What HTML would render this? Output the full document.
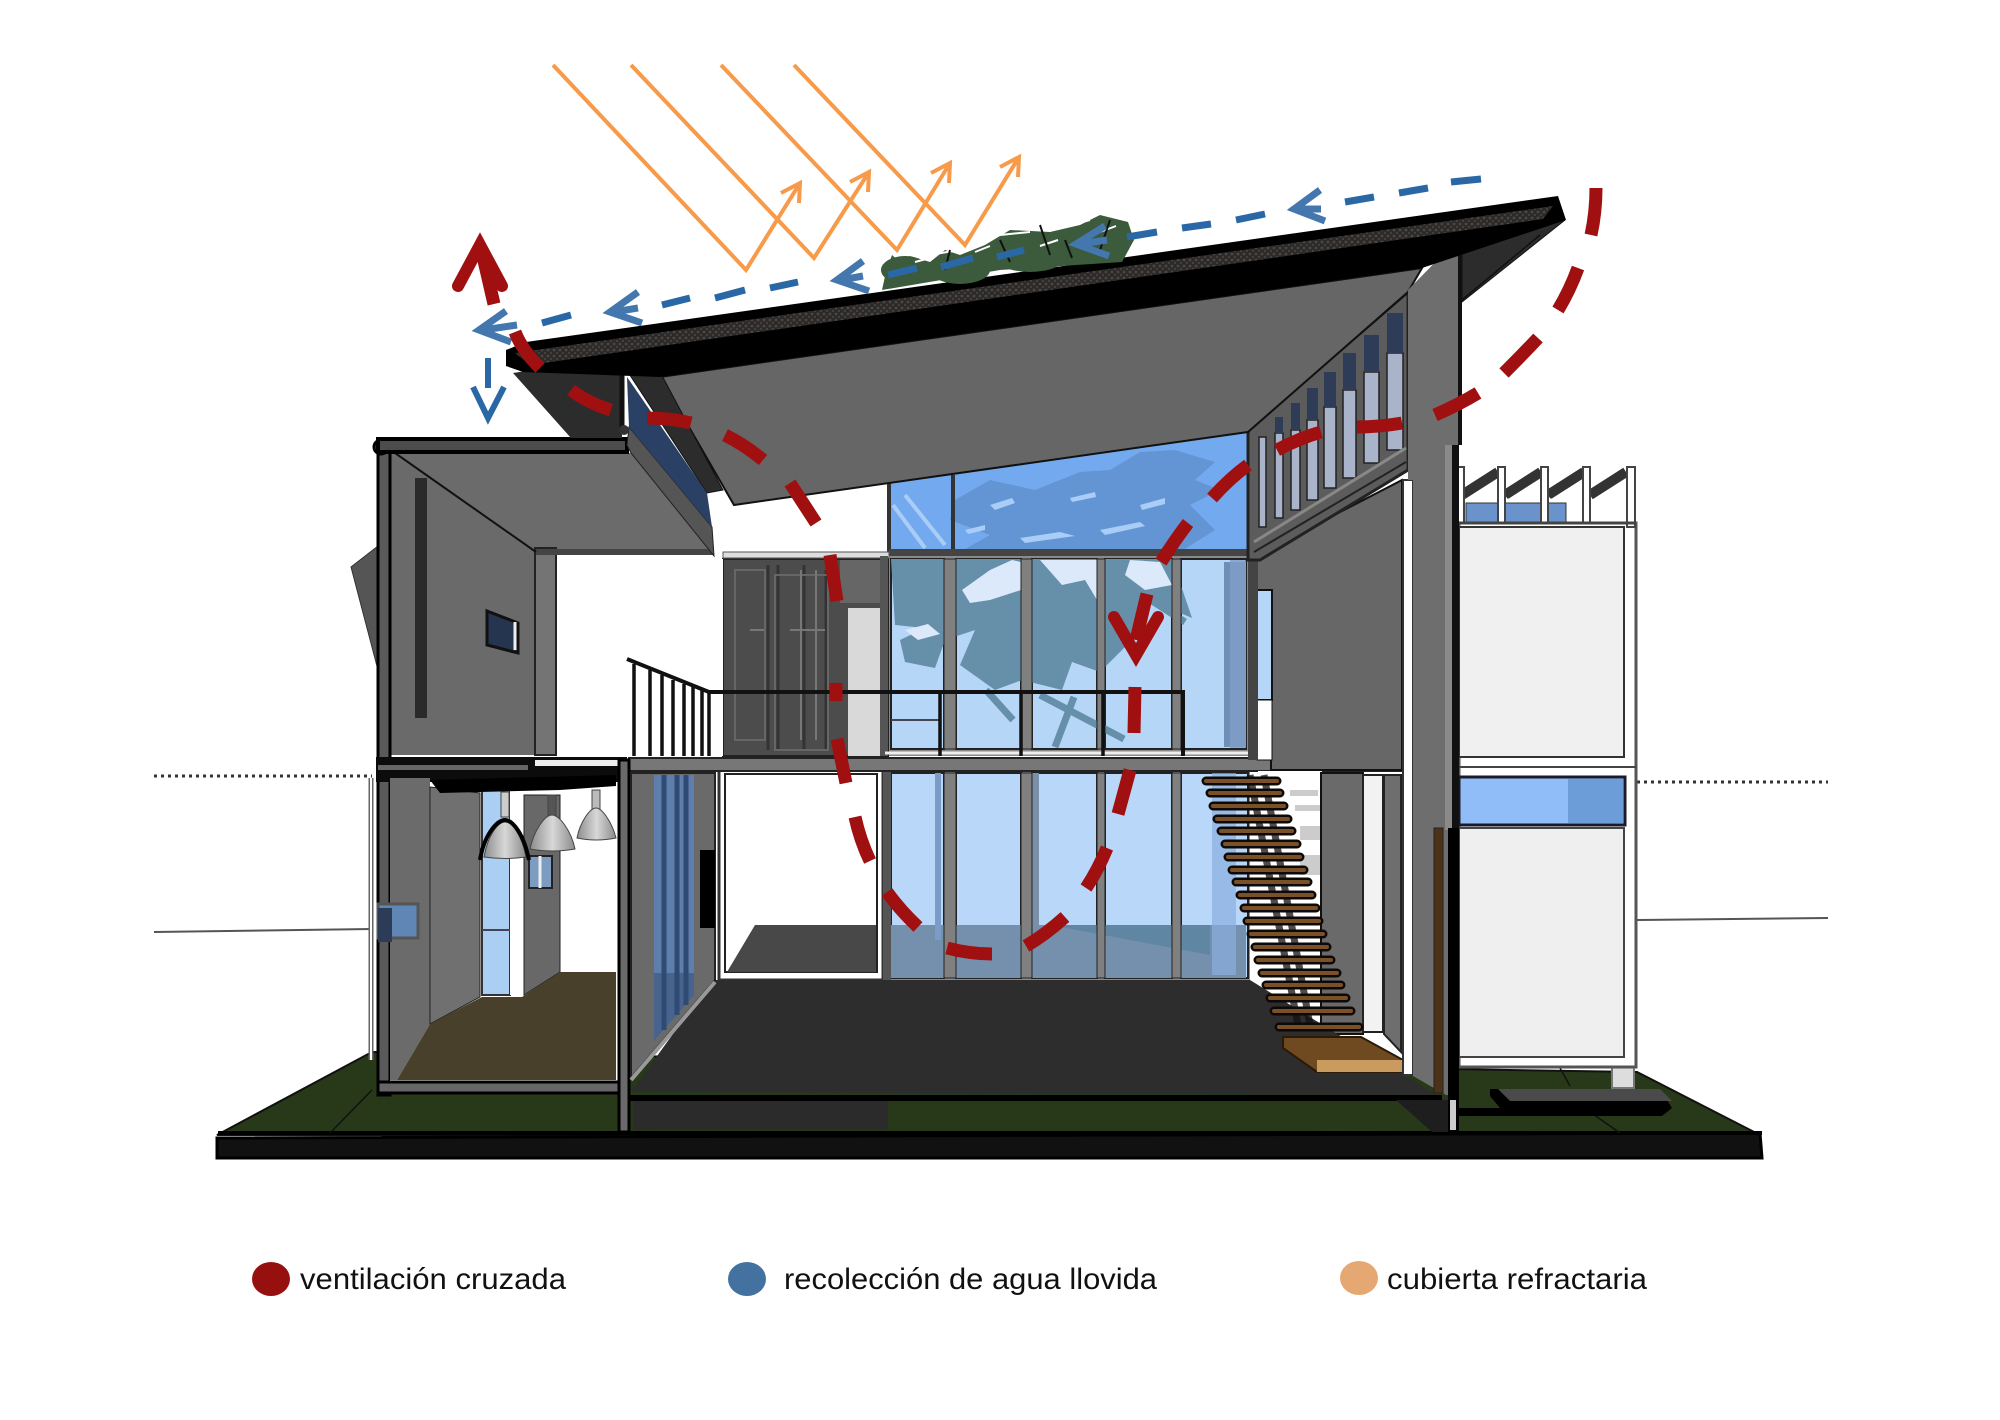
<!DOCTYPE html>
<html lang="es">
<head>
<meta charset="utf-8">
<title>Diagrama bioclimático</title>
<style>
html,body{margin:0;padding:0;background:#fff}
svg{display:block}
text{font-family:"Liberation Sans",sans-serif;fill:#111}
</style>
</head>
<body>
<svg width="2000" height="1420" viewBox="0 0 2000 1420" xmlns="http://www.w3.org/2000/svg">
<defs>
<linearGradient id="lamp" x1="0" x2="1" y1="0" y2="0"><stop offset="0" stop-color="#8c8c8c"/><stop offset=".5" stop-color="#d8d8d8"/><stop offset="1" stop-color="#8a8a8a"/></linearGradient>
<clipPath id="up"><path d="M891 559h53v190h-53zM956 559h65v190h-65zM1032 559h65v190h-65zM1105 559h67v190h-67zM1181 559h65v190h-65z"/></clipPath>
<clipPath id="topglass"><path d="M889 483L1248 433V552H889z"/></clipPath>
<pattern id="mott" width="6" height="6" patternUnits="userSpaceOnUse"><rect width="6" height="6" fill="#2c2a28"/><circle cx="2" cy="2" r="1.4" fill="#4c4744"/><circle cx="5" cy="5" r="1.2" fill="#45403d"/></pattern>
</defs>
<rect width="2000" height="1420" fill="#fff"/>

<!-- ground lines -->
<path d="M154 776H372" stroke="#333" stroke-width="3" stroke-dasharray="3 4" fill="none"/>
<path d="M1637 782H1828" stroke="#333" stroke-width="3" stroke-dasharray="3 4" fill="none"/>
<path d="M154 932L372 929M1637 920L1828 918" stroke="#555" stroke-width="2" fill="none"/>

<!-- grass + base -->
<path d="M217 1135L372 1052L1637 1072L1760 1135Z" fill="#28391a" stroke="#111" stroke-width="2"/>
<path d="M217 1138L1760 1133L1762 1158L217 1158Z" fill="#111" stroke="#000" stroke-width="3"/>
<path d="M218 1133H1762" stroke="#000" stroke-width="4"/>
<path d="M330 1133L372 1090M1620 1133L1590 1112M1560 1068L1570 1086" stroke="#111" stroke-width="1.5"/>
<path d="M1490 1089H1660L1672 1108L1662 1116H1456V1108H1500L1490 1096Z" fill="#000"/>
<path d="M1498 1089H1660L1672 1101H1510Z" fill="#4a4a4a"/>
<path d="M1612 1066H1634V1088H1612Z" fill="#ddd" stroke="#777" stroke-width="2"/>

<!-- right building -->
<rect x="1459" y="523" width="177" height="544" fill="#fff" stroke="#555" stroke-width="3"/>
<rect x="1459" y="527" width="165" height="230" fill="#f0f0f0" stroke="#333" stroke-width="2"/>
<path d="M1459 767H1636" stroke="#444" stroke-width="2"/>
<rect x="1459" y="777" width="166" height="48" fill="#90bdf8" stroke="#1a1a2a" stroke-width="3"/>
<rect x="1568" y="779" width="55" height="44" fill="#6d9dd8"/>
<rect x="1459" y="828" width="165" height="229" fill="#efefef" stroke="#444" stroke-width="2"/>
<!-- pergola -->
<rect x="1466" y="503" width="100" height="19" fill="#6a93cc" stroke="#333"/>
<path d="M1462 495L1498 472M1505 495L1541 472M1548 495L1584 472M1590 495L1626 472" stroke="#333" stroke-width="10" fill="none"/>
<path d="M1466 500H1575" stroke="#fff" stroke-width="3"/>
<g fill="#fff" stroke="#444" stroke-width="2"><rect x="1457" y="467" width="7" height="56"/><rect x="1498" y="467" width="7" height="56"/><rect x="1541" y="467" width="7" height="56"/><rect x="1583" y="467" width="7" height="56"/><rect x="1627" y="467" width="8" height="60"/></g>
<path d="M1459 523H1636" stroke="#444" stroke-width="3"/>

<!-- rear: top glass -->
<path d="M889 483L1248 433V552H889Z" fill="#73a9ee"/>
<g clip-path="url(#topglass)">
<path d="M955 500L990 480L1035 490L1080 472L1110 470L1140 452L1175 450L1215 462L1195 480L1220 490L1190 505L1215 530L1180 552H960L990 535L950 520Z" fill="#5f90ce" opacity=".8"/>
<g fill="#a9cdf6"><path d="M1020 538L1060 532L1075 536L1025 543Z"/><path d="M1100 530L1140 522L1145 526L1105 535Z"/><path d="M990 505L1012 498L1015 503L995 510Z"/><path d="M1140 505L1165 498L1165 504L1142 510Z"/><path d="M1070 498L1095 492L1096 497L1072 502Z"/><path d="M965 530L985 525L985 530L968 534Z"/></g>
<path d="M893 505L925 548M905 495L945 545" stroke="#a9cdf6" stroke-width="4"/>
</g>
<path d="M889 483V552M953 475V552" stroke="#333" stroke-width="4"/>
<rect x="889" y="549" width="360" height="7" fill="#444"/>

<!-- upper windows -->
<rect x="887" y="556" width="363" height="200" fill="#8a8a8a"/>
<g fill="#b6d6f8" stroke="#222" stroke-width="2"><rect x="891" y="559" width="53" height="190"/><rect x="956" y="559" width="65" height="190"/><rect x="1032" y="559" width="65" height="190"/><rect x="1105" y="559" width="67" height="190"/><rect x="1181" y="559" width="65" height="190"/></g>
<rect x="1224" y="562" width="22" height="185" fill="#6e8fb8"/>
<g clip-path="url(#up)">
<path d="M891 559H1172L1192 618L1150 600L1132 640L1112 660L1100 672L1072 662L1062 690L1022 680L995 690L960 665L975 630L945 640L935 668L905 662L900 640L925 628L895 625Z" fill="#668fa9"/>
<path d="M986 690L1013 720M1040 695L1124 739M1055 747L1074 697M1135 590L1185 622M1120 610L1100 650" stroke="#668fa9" stroke-width="7"/>
<g fill="#dbe9fa"><path d="M962 590L990 570L1012 560L1021 562V590L990 600L970 603Z"/><path d="M1040 560L1062 585L1085 580L1097 600V560Z"/><path d="M1130 560L1160 562L1172 585L1145 590L1125 575Z"/><path d="M905 630L928 624L940 634L918 640Z"/></g>
</g>
<path d="M891 720H940" stroke="#445" stroke-width="2"/>

<!-- lower windows -->
<rect x="887" y="770" width="363" height="212" fill="#8a8a8a"/>
<g fill="#b8d7f9" stroke="#222" stroke-width="2"><rect x="891" y="773" width="53" height="205"/><rect x="956" y="773" width="65" height="205"/><rect x="1032" y="773" width="65" height="205"/><rect x="1105" y="773" width="67" height="205"/><rect x="1181" y="773" width="67" height="205"/></g>
<path d="M891 925H944V978H891ZM956 925H1021V978H956ZM1032 925H1097V978H1032ZM1105 925H1172V978H1105ZM1181 925H1246V978H1181Z" fill="#7590ad"/>
<path d="M1050 925L1210 955V925Z" fill="#5a83a0" opacity=".8"/>
<rect x="1021" y="773" width="18" height="155" fill="#7a90a8"/>
<path d="M938 773V940" stroke="#7a9cc6" stroke-width="6"/>
<path d="M1224 773V975" stroke="#8aaede" stroke-width="24" opacity=".7"/>
<g fill="#808080" stroke="#222"><rect x="1097" y="773" width="8" height="205"/><rect x="1172" y="773" width="9" height="205"/><rect x="1021" y="773" width="11" height="205"/><rect x="944" y="773" width="12" height="205"/><rect x="1097" y="559" width="8" height="190"/><rect x="1172" y="559" width="9" height="190"/><rect x="1021" y="559" width="11" height="190"/><rect x="944" y="559" width="12" height="190"/></g>

<!-- dark doors -->
<rect x="723" y="559" width="165" height="197" fill="#4c4c4c" stroke="#222" stroke-width="2"/>
<path d="M723 552H889V558H723Z" fill="#ddd" stroke="#555"/>
<rect x="848" y="608" width="32" height="148" fill="#d9d9d9"/>
<rect x="840" y="560" width="40" height="43" fill="#666"/>
<path d="M768 565V750M778 565V750M804 565V750M826 570V750" stroke="#333" stroke-width="3"/>
<path d="M735 570H765V740H735ZM775 575H828V750H775Z" fill="none" stroke="#666" stroke-width="2"/>
<path d="M750 630H764M790 630H825M801 570V740M816 570V740" stroke="#777" stroke-width="2"/>
<path d="M884 556V756" stroke="#555" stroke-width="8"/>

<!-- court room window -->
<rect x="719" y="768" width="164" height="212" fill="#fff" stroke="#333" stroke-width="3"/>
<rect x="725" y="774" width="152" height="198" fill="#fff" stroke="#222" stroke-width="2"/>
<path d="M755 925H876V972H727Z" fill="#484848"/>
<rect x="883" y="770" width="8" height="212" fill="#555"/>

<!-- slab -->
<rect x="629" y="758" width="775" height="13" fill="#777" stroke="#222" stroke-width="2"/>
<path d="M885 753H1250" stroke="#eee" stroke-width="3"/>

<!-- lower right under-stair -->
<rect x="1258" y="771" width="64" height="195" fill="#fff"/>
<g fill="#ccc"><rect x="1290" y="790" width="28" height="6"/><rect x="1295" y="805" width="25" height="6"/><rect x="1300" y="826" width="22" height="14"/><rect x="1300" y="855" width="22" height="20"/></g>
<path d="M1321 773H1363V1034H1321Z" fill="#6a6a6a" stroke="#111" stroke-width="2"/>
<rect x="1363" y="775" width="20" height="257" fill="#f2f2f2" stroke="#222" stroke-width="2"/>
<path d="M1384 775H1401V1052L1384 1034Z" fill="#6e6e6e" stroke="#222" stroke-width="2"/>

<!-- main floor -->
<path d="M631 1092L712 980H1250L1436 1095Z" fill="#2d2d2d"/>
<path d="M628 1098H1442" stroke="#000" stroke-width="6"/>
<path d="M633 1101H888V1130H633Z" fill="#2b2b2b"/>
<path d="M1396 1100L1432 1132H1456V1100Z" fill="#1e1e1e"/>

<!-- stairs -->
<g stroke="#111" stroke-width="7" opacity=".75"><path d="M1250 775L1298 1025M1264 775L1310 1025"/></g>
<g stroke="#0d0906" stroke-width="9" stroke-linecap="round">
<path d="M1206 781H1277M1210 793H1280M1213 806H1284M1217 819H1288M1221 831H1292M1225 844H1297M1228 857H1300M1232 870H1304M1236 882H1308M1240 895H1312M1244 908H1316M1247 921H1319M1251 934H1323M1255 947H1327M1258 960H1331M1262 973H1337M1266 985H1341M1270 998H1346M1274 1011H1351M1279 1027H1359"/>
</g>
<g stroke="#7a5028" stroke-width="4" stroke-linecap="round">
<path d="M1206 781H1277M1210 793H1280M1213 806H1284M1217 819H1288M1221 831H1292M1225 844H1297M1228 857H1300M1232 870H1304M1236 882H1308M1240 895H1312M1244 908H1316M1247 921H1319M1251 934H1323M1255 947H1327M1258 960H1331M1262 973H1337M1266 985H1341M1270 998H1346M1274 1011H1351M1279 1027H1359"/>
</g>
<path d="M1283 1037H1361L1403 1060V1072H1317L1283 1048Z" fill="#6f4a20" stroke="#2a1a08" stroke-width="2"/>
<path d="M1317 1060H1403V1072H1317Z" fill="#c99b5e"/>

<!-- lower right wall + white strip -->
<path d="M1257 555L1402 480V770H1271V590H1257Z" fill="#676767" stroke="#111" stroke-width="2"/>
<rect x="1257" y="590" width="15" height="110" fill="#b5d6f7" stroke="#111" stroke-width="2"/>
<rect x="1257" y="700" width="15" height="60" fill="#fff" stroke="#111" stroke-width="1"/>
<rect x="1248" y="555" width="10" height="205" fill="#444"/>
<rect x="1403" y="480" width="10" height="595" fill="#fff" stroke="#333" stroke-width="2"/>
<path d="M1230 560H1246V748H1230Z" fill="#7f9fc9" opacity=".8"/>

<!-- clerestory -->
<path d="M1248 430L1408 292V470L1260 560H1248Z" fill="#5c5c5c" stroke="#222" stroke-width="3"/>
<g fill="#a9b3c9" stroke="#222" stroke-width="1.5">
<rect x="1259" y="437" width="7" height="90"/><rect x="1275" y="433" width="8" height="85"/><rect x="1291" y="430" width="9" height="80"/><rect x="1307" y="420" width="11" height="80"/><rect x="1324" y="407" width="12" height="81"/><rect x="1343" y="390" width="13" height="88"/><rect x="1364" y="372" width="15" height="91"/><rect x="1387" y="353" width="16" height="97"/>
</g>
<g fill="#2f3c57">
<rect x="1275" y="417" width="8" height="16"/><rect x="1291" y="403" width="9" height="27"/><rect x="1307" y="388" width="11" height="32"/><rect x="1324" y="372" width="12" height="35"/><rect x="1343" y="353" width="13" height="37"/><rect x="1364" y="335" width="15" height="37"/><rect x="1387" y="313" width="16" height="40"/>
</g>
<path d="M1254 542L1406 448" stroke="#888" stroke-width="3"/>
<path d="M1254 552L1406 462" stroke="#222" stroke-width="2"/>

<!-- left tilted shape -->
<path d="M351 567L378 546V670Z" fill="#555" stroke="#333"/>

<!-- opening white -->
<rect x="556" y="559" width="167" height="197" fill="#fff"/>

<!-- upper left room -->
<path d="M390 453H631L712 552H536Z" fill="#6b6b6b"/>
<path d="M390 453L536 548V755H390Z" fill="#6a6a6a"/>
<path d="M535 548H556V755H535Z" fill="#747474" stroke="#222" stroke-width="2"/>
<path d="M536 552H714" stroke="#444" stroke-width="6"/>
<path d="M395 453L536 552" stroke="#111" stroke-width="2"/>
<rect x="415" y="478" width="12" height="240" fill="#2a2a2a"/>
<path d="M487 611L518 623V653L487 645Z" fill="#25344f" stroke="#111" stroke-width="3"/>
<path d="M515 622V650" stroke="#eee" stroke-width="3"/>
<rect x="378" y="445" width="12" height="650" fill="#5a5a5a" stroke="#000" stroke-width="3"/>
<circle cx="381" cy="447" r="7" fill="#555" stroke="#000" stroke-width="3"/>
<path d="M378 439H627V452H378Z" fill="#4c4c4c" stroke="#000" stroke-width="4"/>
<path d="M627 445L629 427L712 527L714 556L631 453Z" fill="#555" stroke="#222"/>

<!-- slab left -->
<path d="M376 757H627V782H376Z" fill="#0c0c0c"/>
<rect x="535" y="760" width="92" height="6" fill="#eee"/>
<rect x="378" y="765" width="150" height="5" fill="#666"/>

<!-- railing -->
<path d="M627 659L709 692H1183V756" fill="none" stroke="#111" stroke-width="4"/>
<path d="M634 664V756M650 670V756M662 675V756M673 680V756M684 684V756M693 687V756M702 690V756M709 692V756M940 692V756M1021 692V756M1103 692V756" stroke="#111" stroke-width="3.5" fill="none"/>

<!-- lower left room -->
<rect x="390" y="782" width="230" height="300" fill="#fff"/>
<path d="M390 778H430V1024L397 1080H390Z" fill="#6b6b6b"/>
<path d="M430 787L480 793V997L430 1024Z" fill="#707070" stroke="#222"/>
<rect x="482" y="790" width="28" height="205" fill="#aacff2" stroke="#333" stroke-width="2"/>
<path d="M482 930H510" stroke="#445" stroke-width="2"/>
<rect x="510" y="790" width="12" height="205" fill="#fff"/>
<path d="M524 795H560V972L524 995Z" fill="#686868" stroke="#222"/>
<path d="M397 1080L430 1024L482 997H522L560 972H616V1080Z" fill="#48402a"/>
<path d="M430 780L616 775V786L560 790L440 793Z" fill="#000"/>
<rect x="529" y="856" width="23" height="32" fill="#7c9cc2" stroke="#222" stroke-width="2"/>
<path d="M540 856V888" stroke="#eee" stroke-width="3"/>
<rect x="378" y="904" width="40" height="34" fill="#5f86b5" stroke="#555" stroke-width="3"/>
<rect x="378" y="908" width="14" height="34" fill="#2c3c56"/>

<!-- lamps -->
<g stroke="#444" stroke-width="1">
<rect x="592" y="790" width="8" height="20" fill="#bbb"/>
<path d="M577 838C580 822 590 808 596 808C602 808 612 822 616 838Q596 842 577 838Z" fill="url(#lamp)"/>
<rect x="548" y="795" width="8" height="25" fill="#555"/>
<path d="M530 849C534 830 545 815 552 815C559 815 571 830 575 849Q552 853 530 849Z" fill="url(#lamp)"/>
<rect x="501" y="792" width="8" height="25" fill="#ccc"/>
<path d="M484 857C488 835 498 822 505 822C512 822 522 835 526 857Q505 860 484 857Z" fill="url(#lamp)"/>
</g>
<path d="M480 860C484 835 497 820 505 820C513 820 524 835 529 860" fill="none" stroke="#000" stroke-width="4"/>

<!-- frames lower left -->
<path d="M378 1082H627V1093H378Z" fill="#666" stroke="#000" stroke-width="3"/>
<rect x="619" y="760" width="10" height="372" fill="#6a6a6a" stroke="#000" stroke-width="3"/>
<path d="M371 778V1060" stroke="#666" stroke-width="5"/>
<path d="M371 778V1060" stroke="#fff" stroke-width="2"/>

<!-- wall beside court -->
<path d="M631 773H715V980L631 1078Z" fill="#6a6a6a" stroke="#222" stroke-width="2"/>
<path d="M654 775H694V995L654 1041Z" fill="#5e7fab"/>
<path d="M664 775V1030M677 775V1015M686 775V1005" stroke="#2f4a73" stroke-width="5"/>
<path d="M654 973H694V995L654 1041Z" fill="#2f4a73" opacity=".5"/>
<rect x="700" y="850" width="15" height="78" fill="#000"/>
<path d="M631 1080L715 982" stroke="#999" stroke-width="4"/>

<!-- main roof -->
<path d="M660 377L1422 268L1408 292L1248 432L734 505Z" fill="#666" stroke="#111" stroke-width="2"/>
<path d="M513 373L546 368L622 363V438H571Z" fill="#2c2c2c"/>
<path d="M622 363L651 355L723 490L707 493Z" fill="#2c2c2c" stroke="#111"/>
<path d="M627 377L707 493L712 527L629 427Z" fill="#2a4064"/>
<path d="M622 365V430" stroke="#111" stroke-width="5"/>
<circle cx="624" cy="430" r="5" fill="#333"/>
<path d="M1462 243L1513 233L1565 220L1462 302Z" fill="#2c2c2c" stroke="#111"/>
<path d="M1462 300L1540 235" stroke="#111" stroke-width="1.5"/>

<!-- right column -->
<path d="M1408 290L1452 245H1458V1095L1446 1095L1413 1076V480H1408Z" fill="#6e6e6e"/>
<rect x="1445" y="445" width="7" height="385" fill="#8a8a8a"/>
<path d="M1460 243V445" stroke="#111" stroke-width="4"/>
<rect x="1452" y="445" width="7" height="385" fill="#111"/>
<rect x="1448" y="828" width="11" height="305" fill="#000"/>
<rect x="1434" y="828" width="9" height="265" fill="#4e3218" stroke="#222"/>
<path d="M1453 1100V1130" stroke="#ccc" stroke-width="6"/>

<!-- roof band -->
<path d="M506 350L526 342L1558 196L1566 220L1422 268L660 377L523 372L506 366Z" fill="#000"/>
<path d="M515 353L1553 206L1543 219L530 365Z" fill="url(#mott)"/>

<!-- vegetation -->
<g fill="#3c5a3c">
<path d="M882 290L886 272L892 255L900 262L910 256L930 262L945 250L960 255L985 245L1010 230L1050 232L1080 225L1100 215L1128 222L1134 240L1122 262L1000 270Z"/>
<ellipse cx="905" cy="270" rx="24" ry="14"/><ellipse cx="960" cy="270" rx="30" ry="14"/><ellipse cx="1030" cy="256" rx="36" ry="16"/><ellipse cx="1090" cy="245" rx="40" ry="18"/>
</g>
<path d="M930 255L970 248M1000 235L1030 232M1060 228L1090 220M915 262L930 258M975 252L990 246M1040 246L1058 240M1100 232L1116 226" stroke="#fff" stroke-width="2"/>
<path d="M1040 225L1050 255M1065 240L1072 258M950 250L945 270M1000 240L1010 262M1110 220L1100 250" stroke="#111" stroke-width="2"/>

<!-- sun rays -->
<g fill="none" stroke="#f79a4a" stroke-width="4" stroke-linejoin="miter">
<path d="M553 65L746 270L800 183M781 193L800 183L799 203"/>
<path d="M631 65L814 258L869 172M850 182L869 172L868 192"/>
<path d="M721 65L897 250L950 163M931 173L950 163L949 183"/>
<path d="M794 65L965 245L1019 157M1000 167L1019 157L1018 177"/>
</g>

<!-- blue rain -->
<g fill="none" stroke="#2a68a5" stroke-width="7">
<path d="M1451 182L1481 179M1399 193L1428 188M1345 202L1374 197M1236 220L1265 214M1182 228L1211 224M1127 237L1157 232"/>
<path d="M997 257L1024 250M941 267L973 258M888 275L917 268M770 288L798 282M715 298L745 290M662 305L690 298M542 323L571 315"/>
<path d="M488 358V388" stroke-width="6"/>
</g>
<g fill="none" stroke="#4377ae" stroke-width="7">
<path d="M1320 190L1294 209L1325 221M1297 209H1321"/>
<path d="M1105 226L1076 244L1109 256M1080 244L1107 240"/>
<path d="M863 261L837 280L869 291M841 280L863 276"/>
<path d="M638 292L610 312L642 323M614 312L638 308"/>
<path d="M506 311L479 330L511 342M483 330L517 325"/>
<path d="M473 387L488 418L504 387" stroke="#2a68a5" stroke-width="6"/>
</g>

<!-- red ventilation -->
<g fill="none" stroke="#a01010" stroke-width="13">
<path d="M515 332Q522 350 540 368"/>
<path d="M571 390Q588 403 611 410"/>
<path d="M647 418Q670 418 691 423"/>
<path d="M725 435Q745 445 763 460"/>
<path d="M790 483L816 523"/>
<path d="M830 555L837 601"/>
<path d="M836 683V701"/>
<path d="M837 739L846 783"/>
<path d="M855 817Q860 840 870 861"/>
<path d="M887 892Q900 910 918 927"/>
<path d="M947 948Q970 954 992 954"/>
<path d="M1026 946Q1045 935 1065 917"/>
<path d="M1086 888Q1098 870 1107 848"/>
<path d="M1118 814L1130 770"/>
<path d="M1134 733L1135 687"/>
<path d="M1161 562Q1175 540 1188 523"/>
<path d="M1212 498Q1230 478 1248 465"/>
<path d="M1277 450Q1300 438 1321 432"/>
<path d="M1357 427Q1380 427 1402 423"/>
<path d="M1435 415Q1458 405 1478 393"/>
<path d="M1504 373Q1525 352 1538 338"/>
<path d="M1558 310Q1570 290 1578 268"/>
<path d="M1591 235Q1596 212 1596 188"/>
<path d="M482 252L494 304"/>
<path d="M1147 594L1136 640"/>
</g>
<path d="M458 286L480 245L502 286" fill="none" stroke="#a01010" stroke-width="12" stroke-linecap="round"/>
<path d="M1114 617L1136 655L1158 617" fill="none" stroke="#a01010" stroke-width="12" stroke-linecap="round"/>

<!-- legend -->
<ellipse cx="271" cy="1279" rx="19" ry="17" fill="#96100f"/>
<ellipse cx="747" cy="1279" rx="19" ry="17" fill="#4472a0"/>
<ellipse cx="1359" cy="1278" rx="19" ry="17" fill="#e5a873"/>
<text x="300" y="1289" font-size="30" textLength="266" lengthAdjust="spacingAndGlyphs">ventilación cruzada</text>
<text x="784" y="1289" font-size="30" textLength="373" lengthAdjust="spacingAndGlyphs">recolección de agua llovida</text>
<text x="1387" y="1289" font-size="30" textLength="260" lengthAdjust="spacingAndGlyphs">cubierta refractaria</text>
</svg>
</body>
</html>
